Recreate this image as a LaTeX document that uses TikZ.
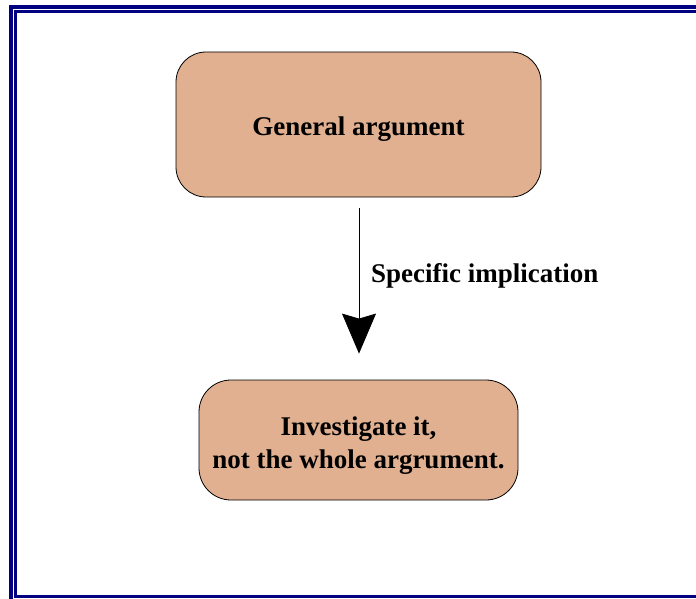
\documentclass[tikz,border=0pt]{standalone}
\usepackage{fontspec}
\setmainfont{Liberation Serif}
\usetikzlibrary{arrows.meta}
\definecolor{boxfill}{RGB}{224,176,144}
\definecolor{framenavy}{RGB}{0,0,128}
\tikzset{
  roundbox/.style={draw=black, line width=0.8pt, fill=boxfill, rounded corners=30pt, inner sep=0pt},
  boxtext/.style={font=\fontsize{27}{33}\selectfont\bfseries, align=center, inner sep=0pt},
  frameline/.style={draw=framenavy},
}
\begin{document}
\begin{tikzpicture}[x=1pt,y=-1pt]
\useasboundingbox (0,0) rectangle (696,599);
\fill[white] (0,0) rectangle (696,599);
\begin{scope}
\clip (0,0) rectangle (696,599);
\draw[frameline, line width=4pt] (11,7) rectangle (720,640);
\draw[frameline, line width=3pt] (15.5,12) rectangle (715,596.5);
\end{scope}
\node[roundbox, minimum width=365pt, minimum height=145pt] (gen) at (358.5,124.5) {};
\node[boxtext] (gentext) at ([yshift=-5pt]gen.center) {General argument};
\node[roundbox, rounded corners=32pt, minimum width=319pt, minimum height=120pt] (inv) at (358.5,440) {};
\node[boxtext] (invtext) at ([yshift=-6pt]inv.center) {Investigate it,\\not the whole argrument.};
\draw[line width=0.8pt, -{Stealth[length=40pt,width=34pt,inset=5pt]}, shorten <=11pt, shorten >=26pt] (gen.south -| 359,0) -- (inv.north -| 359,0);
\node[boxtext, anchor=west] (lbl) at (371,276) {Specific implication};
\end{tikzpicture}
\end{document}
